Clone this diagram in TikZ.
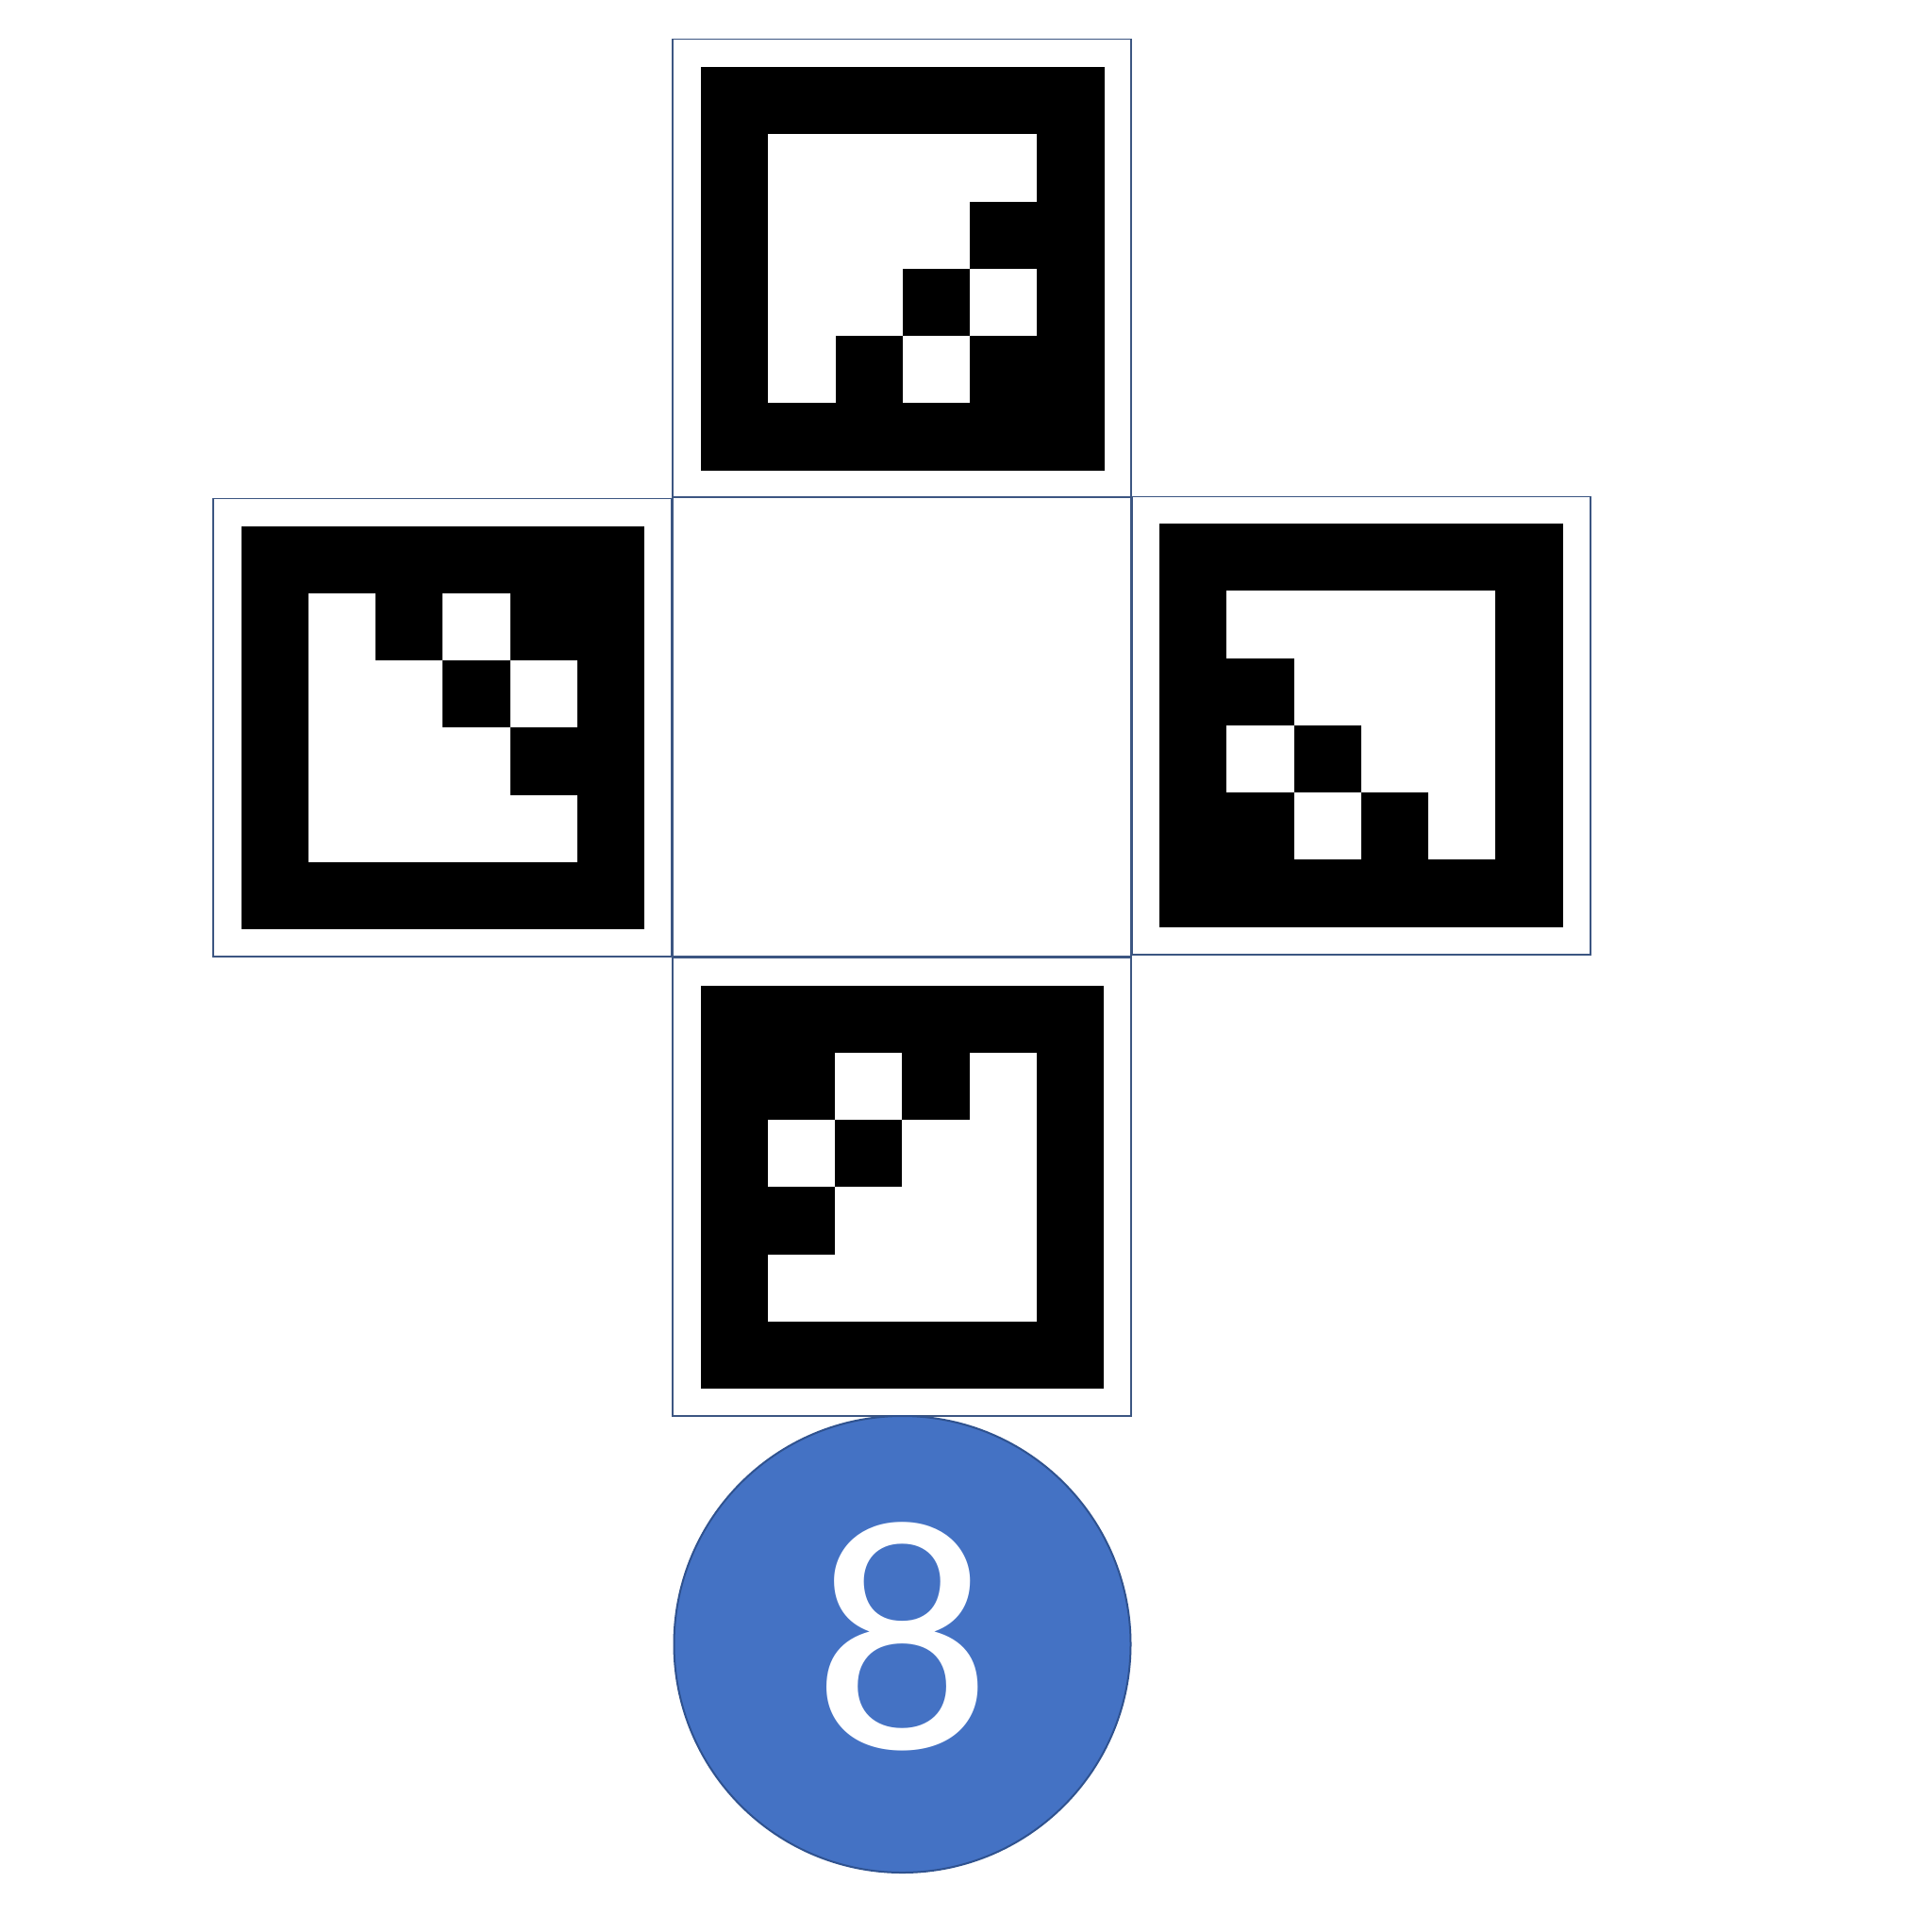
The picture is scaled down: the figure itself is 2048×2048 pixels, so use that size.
\documentclass[tikz,border=0pt]{standalone}
\usepackage{fontspec}
\newfontfamily\carlitofont{Carlito}
\definecolor{framecol}{RGB}{60,86,130}
\definecolor{discfill}{RGB}{68,114,196}
\definecolor{discedge}{RGB}{47,82,143}
\tikzset{
  frameline/.style={draw=framecol, line width=1.5pt, fill=white},
  disc/.style={circle, fill=discfill, draw=discedge, line width=2pt, minimum size=484pt, inner sep=0pt},
  numtext/.style={text=white, inner sep=0pt, font=\fontsize{351}{351}\selectfont\carlitofont}
}
\newcommand{\drawmarker}[3]{% #1 x, #2 y (top-left of black square), #3 list of black inner cells
  \fill[black] (#1,#2) rectangle ++(6*71.25,6*71.25);
  \fill[white] (#1+71.25,#2+71.25) rectangle ++(4*71.25,4*71.25);
  \foreach \cc/\rr in {#3} {
    \fill[black] (#1+71.25+\cc*71.25,#2+71.25+\rr*71.25) rectangle ++(71.25,71.25);
  }
}
\begin{document}
\begin{tikzpicture}[x=1pt,y=-1pt]
\useasboundingbox (0,0) rectangle (2048,2048);
\fill[white] (0,0) rectangle (2048,2048);
% frames
\draw[frameline] (713,41.5) rectangle (1199,527);
\draw[frameline] (713,527) rectangle (1199,1014);
\draw[frameline] (226,528.5) rectangle (712,1014);
\draw[frameline] (1200.5,526.5) rectangle (1686,1012);
\draw[frameline] (713,1015) rectangle (1199,1501);
% markers
\drawmarker{743}{71}{3/1,2/2,1/3,3/3}
\drawmarker{255.5}{557.5}{1/0,3/0,2/1,3/2}
\drawmarker{1229}{555}{0/1,1/2,0/3,2/3}
\drawmarker{742.5}{1044.5}{0/0,2/0,1/1,0/2}
% disc
\node[disc] (badge) at (956.5,1743) {};
\node[numtext, xscale=1.07, transform shape] (num) at (956.5,1734.5) {8};
\end{tikzpicture}
\end{document}
